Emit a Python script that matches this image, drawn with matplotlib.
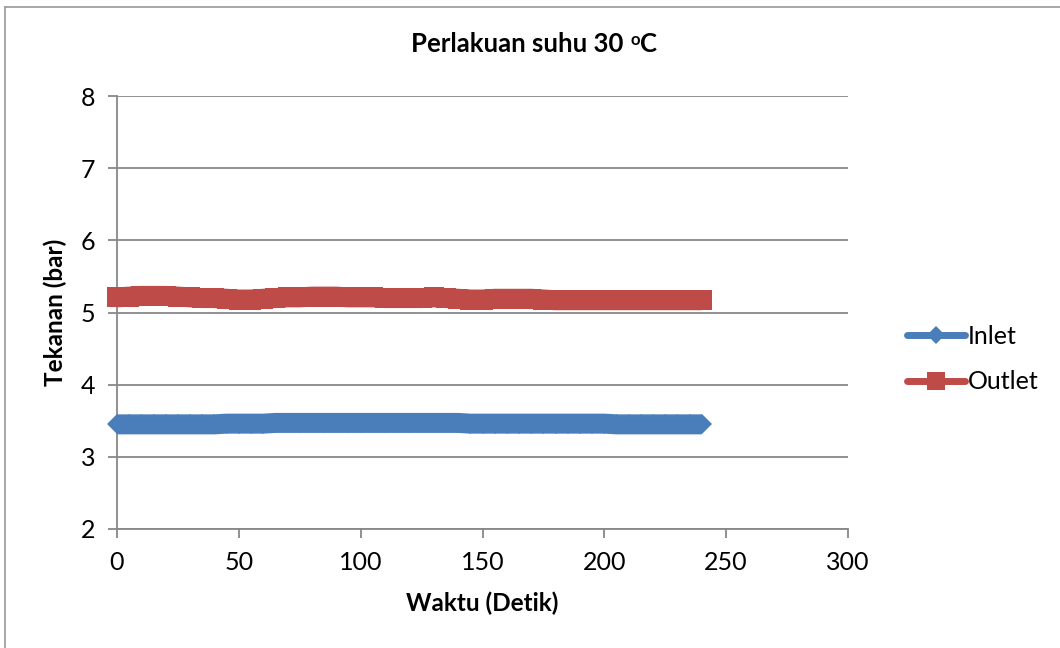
import matplotlib
matplotlib.use("Agg")
import matplotlib.pyplot as plt
from matplotlib.lines import Line2D

plt.rcParams['font.family'] = ['Lato', 'DejaVu Sans']

# Time (seconds) and pressure readings (bar)
waktu = [0, 5, 10, 15, 20, 25, 30, 35, 40, 45, 50, 55, 60, 65, 70, 75, 80, 85, 90, 95,
         100, 105, 110, 115, 120, 125, 130, 135, 140, 145, 150, 155, 160, 165, 170, 175,
         180, 185, 190, 195, 200, 205, 210, 215, 220, 225, 230, 235, 240]
inlet = [3.45, 3.45, 3.45, 3.45, 3.45, 3.45, 3.45, 3.45, 3.45, 3.46, 3.46, 3.46, 3.46,
         3.47, 3.47, 3.47, 3.47, 3.47, 3.47, 3.47, 3.47, 3.47, 3.47, 3.47, 3.47, 3.47,
         3.47, 3.47, 3.47, 3.46, 3.46, 3.46, 3.46, 3.46, 3.46, 3.46, 3.46, 3.46, 3.46,
         3.46, 3.46, 3.45, 3.45, 3.45, 3.45, 3.45, 3.45, 3.45, 3.45]
outlet = [5.21, 5.22, 5.23, 5.23, 5.23, 5.22, 5.21, 5.20, 5.20, 5.19, 5.18, 5.18, 5.19,
          5.20, 5.21, 5.21, 5.22, 5.22, 5.22, 5.21, 5.21, 5.21, 5.20, 5.20, 5.20, 5.20,
          5.21, 5.20, 5.19, 5.18, 5.18, 5.19, 5.19, 5.19, 5.19, 5.18, 5.17, 5.17, 5.17,
          5.17, 5.17, 5.17, 5.17, 5.17, 5.17, 5.17, 5.17, 5.17, 5.17]

xticks = [0, 50, 100, 150, 200, 250, 300]
yticks = [2, 3, 4, 5, 6, 7, 8]

blue = '#4A7EBB'
red = '#BE4B48'
grid = '#888888'

fig = plt.figure(figsize=(10.6, 6.48), dpi=100)
ax = fig.add_axes([117 / 1060, 1 - 529 / 648, (848 - 117) / 1060, (529 - 96) / 648])

# dense markers merge into a thick band
ax.plot(waktu, inlet, color=blue, lw=14.4, marker='D', ms=10.2, mec=blue, mew=0, mfc=blue,
        solid_capstyle='butt', solid_joinstyle='round', zorder=3, clip_on=False)
ax.plot(waktu, outlet, color=red, lw=14.4, marker='s', ms=14.4, mec=red, mew=0, mfc=red,
        solid_capstyle='butt', solid_joinstyle='round', zorder=3, clip_on=False)

ax.set_xlim(0, 300)
ax.set_ylim(2, 8)
ax.set_xticks(xticks)
ax.set_yticks(yticks)
ax.tick_params(axis='both', labelsize=18, color=grid, width=1.3, length=6.5, direction='out', pad=9)
ax.yaxis.grid(True, color=grid, lw=1.3)
ax.set_axisbelow(True)
for s in ['top', 'right']:
    ax.spines[s].set_visible(False)
for s in ['left', 'bottom']:
    ax.spines[s].set_color(grid)
    ax.spines[s].set_linewidth(1.3)

ax.set_xlabel('Waktu (Detik)', fontsize=17.5, fontweight='bold', labelpad=13)
ax.set_ylabel('Tekanan (bar)', fontsize=17.5, fontweight='bold', labelpad=10)

# title with a raised small "o" before the C
renderer = fig.canvas.get_renderer()
ty = 1 - 52 / 648
parts = [('Perlakuan suhu 30 ', 18.5, 0), ('o', 12, 7), ('C', 18.5, 0)]
texts = [fig.text(0, ty, s, fontsize=fs, fontweight='bold', va='baseline') for s, fs, _ in parts]
widths = [t.get_window_extent(renderer).width for t in texts]
x0 = 534 - sum(widths) / 2
for t, w, (_, _, dy) in zip(texts, widths, parts):
    t.set_position((x0 / 1060, ty + dy / 648))
    x0 += w

handles = [Line2D([], [], color=blue, lw=5, marker='D', ms=8.7, mew=0, solid_capstyle='round'),
           Line2D([], [], color=red, lw=5, marker='s', ms=13, mew=0, solid_capstyle='round')]
fig.legend(handles, ['Inlet', 'Outlet'], loc='center left', bbox_to_anchor=(907 / 1060, 1 - 359 / 648),
           frameon=False, fontsize=18, handlelength=2.3, handletextpad=0.15, labelspacing=0.9,
           borderaxespad=0, borderpad=0)

# outer chart-area frame
fig.add_artist(Line2D([4.5 / 1060, 4.5 / 1060], [0, 1 - 6.5 / 648], color='#A0A0A0', lw=1.3))
fig.add_artist(Line2D([4.5 / 1060, 1], [1 - 6.5 / 648, 1 - 6.5 / 648], color='#A0A0A0', lw=1.3))

fig.savefig('out.png', dpi=100, facecolor='white')
